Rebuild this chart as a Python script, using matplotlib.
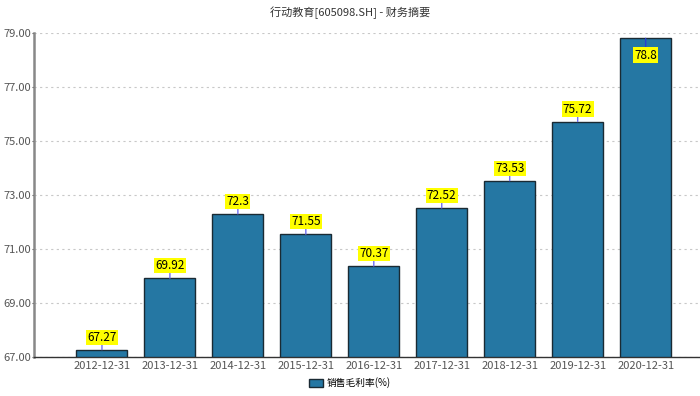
import numpy as np
import matplotlib
matplotlib.use("Agg")
import matplotlib.pyplot as plt

plt.rcParams['font.family'] = ['Noto Sans CJK SC', 'DejaVu Sans']

# data
dates = ["2012-12-31", "2013-12-31", "2014-12-31", "2015-12-31", "2016-12-31",
         "2017-12-31", "2018-12-31", "2019-12-31", "2020-12-31"]
margin = [67.27, 69.92, 72.3, 71.55, 70.37, 72.52, 73.53, 75.72, 78.8]
label_txt = ["67.27", "69.92", "72.3", "71.55", "70.37", "72.52", "73.53", "75.72", "78.8"]
yticks = [67, 69, 71, 73, 75, 77, 79]

fig = plt.figure(figsize=(7, 3.96), dpi=100)
ax = fig.add_axes([34 / 700, 39 / 396, 1 - 34 / 700, 324 / 396])

x = np.arange(len(dates))
ax.bar(x, np.array(margin) - 67, bottom=67, width=0.75, color='#2577a3',
       edgecolor='#1a2a33', linewidth=1, label='销售毛利率(%)', zorder=3)

ax.set_ylim(67, 79)
ax.set_xlim(-1, 8.8)
ax.set_yticks(yticks)
ax.set_yticklabels(["%.2f" % v for v in yticks])
ax.set_xticks(x)
ax.set_xticklabels(dates)
ax.tick_params(axis='both', labelsize=8, colors='#555555')
ax.tick_params(axis='y', length=1.5, pad=0.5)
ax.tick_params(axis='x', length=0, pad=3)
ax.grid(axis='y', linestyle=(0, (2, 3)), color='#c8c8c8', linewidth=0.8, zorder=0)

for s in ['top', 'right']:
    ax.spines[s].set_visible(False)
ax.spines['left'].set_color('#888888')
ax.spines['left'].set_linewidth(1.8)
ax.spines['bottom'].set_color('#333333')
ax.spines['bottom'].set_linewidth(1)

# value labels with small leader line
for xi, v, t in zip(x, margin, label_txt):
    if v > 78.3:
        ax.annotate(t, xy=(xi, v), xytext=(0, -12), textcoords='offset points',
                    ha='center', va='center', fontsize=8.5,
                    bbox=dict(boxstyle='square,pad=0.1', fc='yellow', ec='none'),
                    arrowprops=dict(arrowstyle='-', color='#2a3cd0', lw=1,
                                    shrinkA=0, shrinkB=0), zorder=5)
    else:
        ax.annotate(t, xy=(xi, v), xytext=(0, 9), textcoords='offset points',
                    ha='center', va='center', fontsize=8.5,
                    bbox=dict(boxstyle='square,pad=0.1', fc='yellow', ec='none'),
                    arrowprops=dict(arrowstyle='-', color='#6f6ff0', lw=1,
                                    shrinkA=0, shrinkB=0), zorder=5)

fig.text(0.5, 1 - 13 / 396, "行动教育[605098.SH] - 财务摘要", ha='center', va='center',
         fontsize=8, color='#333333')
fig.legend(loc='center', bbox_to_anchor=(0.5, 1 - 383 / 396), frameon=False,
           fontsize=7, handlelength=1.4, handleheight=0.8, handletextpad=0.4)

fig.savefig("out.png", dpi=100)
